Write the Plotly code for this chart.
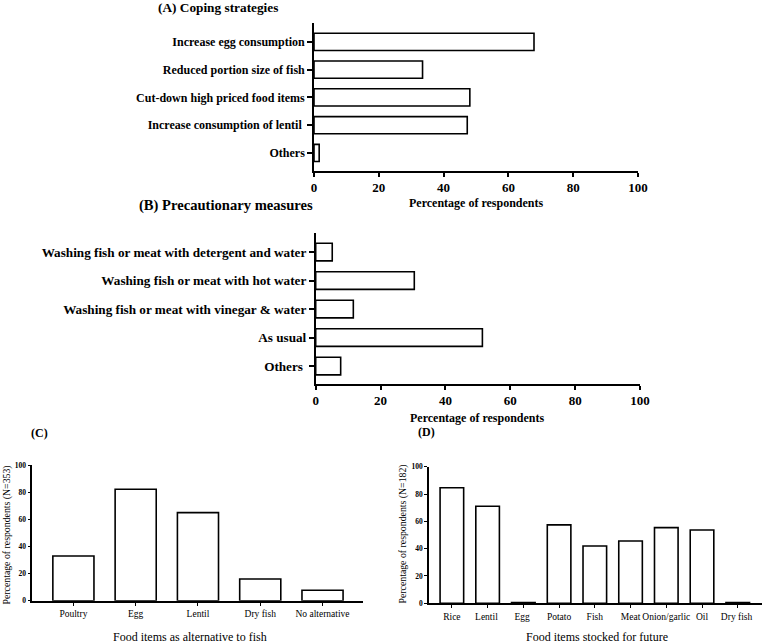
import plotly.graph_objects as go

W, H = 764, 643

# Panel A
a_cats = ["Increase egg consumption", "Reduced portion size of fish", "Cut-down high priced food items",
          "Increase consumption of lentil ", "Others"]
a_vals = [67.9, 33.5, 48.1, 47.3, 1.6]
# Panel B
b_cats = ["Washing fish or meat with detergent and water", "Washing fish or meat with hot water",
          "Washing fish or meat with vinegar & water", "As usual", "Others "]
b_vals = [5.1, 30.4, 11.6, 51.4, 7.7]
# Panel C
c_cats = ["Poultry", "Egg", "Lentil", "Dry fish", "No alternative"]
c_vals = [32.9, 82.1, 64.9, 16.0, 7.7]
# Panel D
d_cats = ["Rice", "Lentil ", "Egg ", "Potato", "Fish", "Meat", "Onion/garlic", "Oil", "Dry fish "]
d_vals = [84.6, 71.0, 0.6, 57.4, 41.9, 45.6, 55.4, 53.7, 0.6]

pct_ticks = [0, 20, 40, 60, 80, 100]

SERIF = "Liberation Serif"
line = dict(color="black", width=1.6)

fig = go.Figure()
fig.add_trace(go.Bar(y=a_cats, x=a_vals, orientation="h", width=0.62,
                     marker=dict(color="white", line=line), xaxis="x", yaxis="y"))
fig.add_trace(go.Bar(y=b_cats, x=b_vals, orientation="h", width=0.62,
                     marker=dict(color="white", line=line), xaxis="x2", yaxis="y2"))
fig.add_trace(go.Bar(x=c_cats, y=c_vals, width=0.66,
                     marker=dict(color="white", line=line), xaxis="x3", yaxis="y3"))
fig.add_trace(go.Bar(x=d_cats, y=d_vals, width=0.66,
                     marker=dict(color="white", line=line), xaxis="x4", yaxis="y4"))

def px_x(v):
    return v / W

def px_y(v):
    return 1 - v / H

def f(size, bold=False):
    d = dict(family=SERIF, size=size, color="black")
    if bold:
        d["weight"] = "bold"
    return d

hx = dict(range=[0, 100], tickvals=pct_ticks, showline=True, linecolor="black", linewidth=1.6,
          ticks="outside", ticklen=4, tickwidth=1.6, tickcolor="black", tickfont=f(13, True),
          showgrid=False, zeroline=False, fixedrange=True, automargin=False)
hy = dict(showline=True, linecolor="black", linewidth=1.6, ticks="outside", ticklen=5, tickwidth=1.6,
          tickcolor="black", showgrid=False, zeroline=False, type="category", automargin=False)
vx = dict(type="category", showline=True, linecolor="black", linewidth=1.6, tickangle=0,
          tickfont=f(9.5), showgrid=False, zeroline=False, automargin=False,
          ticks="outside", ticklen=3, tickwidth=1.3, tickcolor="black")
vy = dict(range=[0, 100], tickvals=pct_ticks, showline=True, linecolor="black", linewidth=1.6,
          ticks="outside", ticklen=3, tickwidth=1.3, tickcolor="black", tickfont=f(7.5, True),
          showgrid=False, zeroline=False, automargin=False)

fig.update_layout(
    width=W, height=H, autosize=False,
    margin=dict(l=0, r=0, t=0, b=0, pad=0, autoexpand=False),
    paper_bgcolor="white", plot_bgcolor="white", showlegend=False,
    font=dict(family=SERIF, color="black"),
    xaxis=dict(hx, domain=[px_x(314), px_x(638)], anchor="y"),
    yaxis=dict(hy, domain=[px_y(171), px_y(23)], anchor="x", tickfont=f(12, True),
               categoryorder="array", categoryarray=a_cats[::-1], range=[-0.65, 4.68]),
    xaxis2=dict(hx, domain=[px_x(315.7), px_x(640)], anchor="y2"),
    yaxis2=dict(hy, domain=[px_y(384), px_y(233)], anchor="x2", tickfont=f(13.2, True),
                categoryorder="array", categoryarray=b_cats[::-1], range=[-0.63, 4.67]),
    xaxis3=dict(vx, domain=[px_x(32.3), px_x(363)], anchor="y3",
                categoryorder="array", categoryarray=c_cats, range=[-0.66, 4.65]),
    yaxis3=dict(vy, domain=[px_y(600.7), px_y(465)], anchor="x3"),
    xaxis4=dict(vx, domain=[px_x(429), px_x(761.7)], anchor="y4",
                categoryorder="array", categoryarray=d_cats, range=[-0.64, 8.67]),
    yaxis4=dict(vy, domain=[px_y(603.3), px_y(466.7)], anchor="x4"),
)

def ann(text, x, y, font, xanchor="center", yanchor="middle", angle=0):
    fig.add_annotation(text=text, x=px_x(x), y=px_y(y), xref="paper", yref="paper",
                       showarrow=False, font=font, xanchor=xanchor, yanchor=yanchor, textangle=angle)

ann("(A) Coping strategies", 218, 8, f(13.3, True))
ann("Percentage of respondents", 476, 202.5, f(12, True))
ann("(B) Precautionary measures", 226, 205, f(14.6, True))
ann("Percentage of respondents", 477, 418, f(12, True))
ann("(C)", 39, 433, f(12, True))
ann("(D)", 426, 432, f(12, True))
ann("Percentage of respondents (N=353)", 6.5, 535, f(9.8), angle=-90)
ann("Percentage of respondents (N=182)", 402.5, 534, f(9.8), angle=-90)
ann("Food items as alternative to fish", 190, 637, f(12))
ann("Food items stocked for future", 597, 637, f(12))

fig.write_html(
    "out.html",
    config={"responsive": False, "displayModeBar": False},
    post_script="document.body.style.margin='0';document.body.style.overflow='hidden';",
)
